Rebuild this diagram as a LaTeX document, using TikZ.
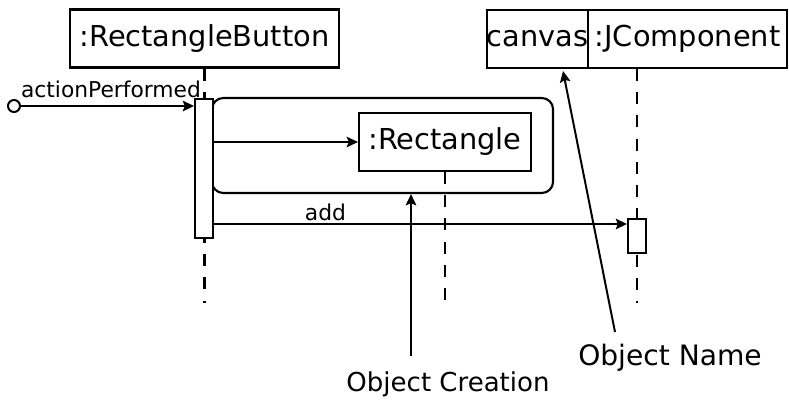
\documentclass[tikz,border=0pt]{standalone}
\usepackage{fontspec}
\setmainfont{DejaVu Sans}
\usepackage{tikz}
\usetikzlibrary{arrows.meta, positioning, calc}
\tikzset{
  objbox/.style={rectangle, draw, line width=1.5pt, inner sep=0pt,
    minimum height=1.45cm, font=\fontsize{20.5}{24}\selectfont},
  actbox/.style={rectangle, draw, fill=white, line width=1.4pt,
    minimum width=0.45cm, inner sep=0pt},
  startdot/.style={circle, draw, fill=white, line width=1.4pt,
    minimum size=0.3cm, inner sep=0pt},
  frag/.style={rectangle, draw, line width=1.5pt, rounded corners=8pt,
    minimum width=8.525cm, minimum height=2.375cm, inner sep=0pt},
  lifeline/.style={line width=1.5pt, dash pattern=on 8.5pt off 8pt},
  msg/.style={-{Stealth[length=8pt,width=7.5pt,inset=1.5pt]}, line width=1.4pt},
  msglabel/.style={font=\fontsize{15.5}{18}\selectfont, inner sep=0pt, anchor=base},
  note/.style={font=\fontsize{18.5}{21}\selectfont, inner sep=0pt},
  pointer/.style={-{Stealth[length=8pt,width=7.5pt,inset=1.5pt]}, line width=1.4pt}
}

\begin{document}
\begin{tikzpicture}[x=0.025cm, y=-0.025cm]
  \useasboundingbox (0,0) rectangle (789,401);

  % objects
  \node[objbox, minimum width=6.725cm] (btn) at (204.5,38.5) {:RectangleButton};
  \node[objbox, minimum width=4.3cm] (rect) at (445,142) {:Rectangle};
  \node[objbox, minimum width=2.525cm] (cv) at (537.5,39) {canvas};
  \node[objbox, minimum width=4.975cm] (comp) at (687.5,39) {:JComponent};
  \coordinate (cvmid) at ($(cv.south west)!0.5!(comp.south east)$);

  % lifelines
  \coordinate (lifeend) at (0,303);
  \draw[lifeline] (btn.south) -- (btn.south |- lifeend);
  \draw[lifeline] (rect.south) -- (rect.south |- lifeend);
  \draw[lifeline] (cvmid) -- (cvmid |- lifeend);

  % creation fragment and activations
  \node[frag] (crfrag) at (382.5,145.5) {};
  \node[actbox, minimum height=3.475cm] (act) at (204,168.5) {};
  \node[actbox, minimum height=0.85cm] (cvact) at (637,236) {};

  % messages
  \node[startdot] (init) at (14,106) {};
  \node[msglabel] (actlbl) at (111,97) {actionPerformed};
  \draw[msg] (init.east) -- (init.east -| act.west);
  \draw[msg] (act.east |- rect.west) -- (rect.west);
  \coordinate (addy) at (0,224);
  \node[msglabel] (addlbl) at (325.5,220) {add};
  \draw[msg] (act.east |- addy) -- (cvact.west |- addy);

  % annotations
  \node[note] (crnote) at (448,384) {Object Creation};
  \node[note, font=\fontsize{20}{23}\selectfont] (nmnote) at (670,358) {Object Name};
  \coordinate (crtail) at (411,356);
  \draw[pointer] (crtail) -- (crtail |- crfrag.south);
  \coordinate (nmtail) at (615,332);
  \coordinate (nmtip) at (563,71);
  \draw[pointer] (nmtail) -- (nmtip);
\end{tikzpicture}
\end{document}
